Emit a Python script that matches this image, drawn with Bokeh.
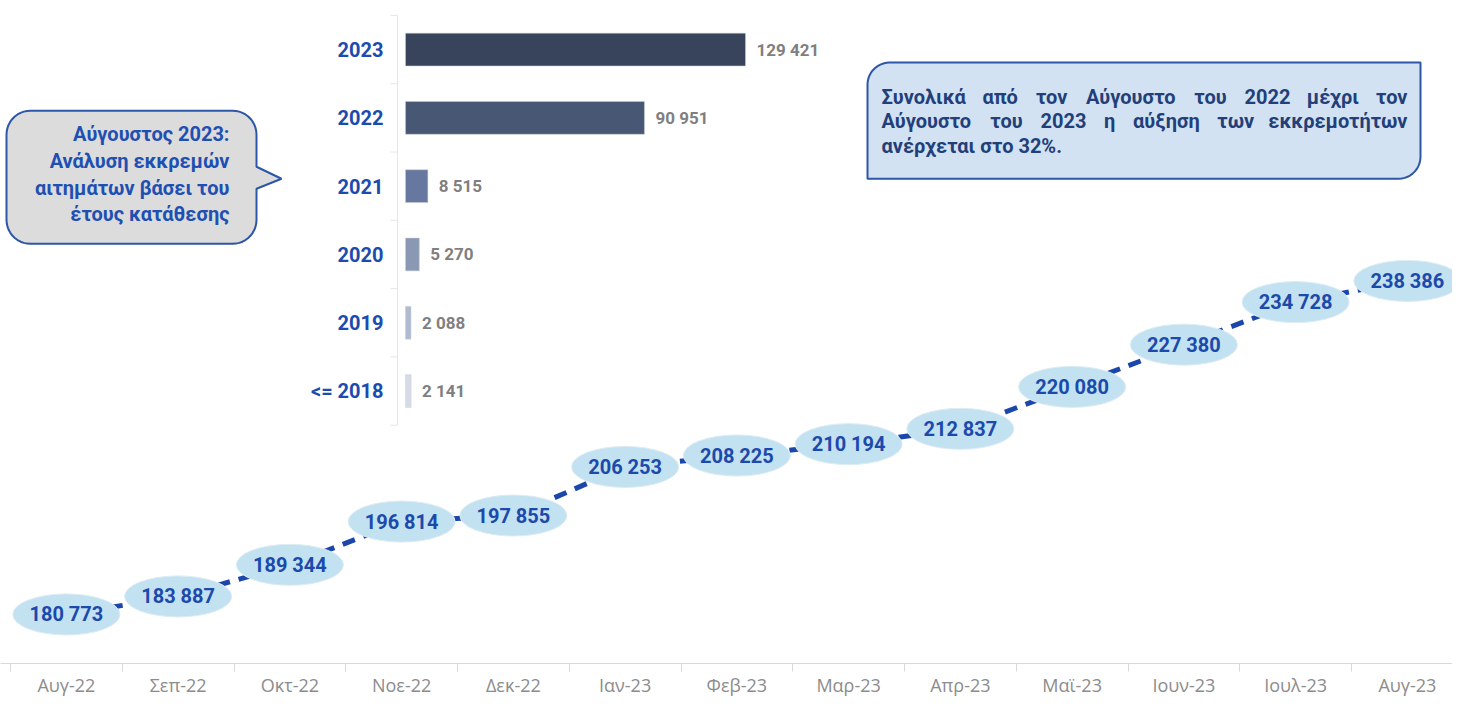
from bokeh.plotting import figure
from bokeh.models import Range1d, FixedTicker, ColumnDataSource
from bokeh.core.properties import value
from bokeh.embed import file_html
from bokeh.resources import INLINE
import numpy as np

# ---------------- data ----------------
months = ["Αυγ-22", "Σεπ-22", "Οκτ-22", "Νοε-22", "Δεκ-22", "Ιαν-23", "Φεβ-23",
          "Μαρ-23", "Απρ-23", "Μαϊ-23", "Ιουν-23", "Ιουλ-23", "Αυγ-23"]
pending = [180773, 183887, 189344, 196814, 197855, 206253, 208225,
           210194, 212837, 220080, 227380, 234728, 238386]

years = ["<= 2018", "2019", "2020", "2021", "2022", "2023"]
year_counts = [2141, 2088, 5270, 8515, 90951, 129421]
bar_colors = ["#D6DCE7", "#B1BBD0", "#8A98B4", "#66789F", "#475774", "#38445C"]

callout_lines = ["Αύγουστος 2023:", "Ανάλυση εκκρεμών", "αιτημάτων βάσει του", "έτους κατάθεσης"]
note_lines = ["Συνολικά από τον Αύγουστο του 2022 μέχρι τον",
              "Αύγουστο του 2023 η αύξηση των εκκρεμοτήτων",
              "ανέρχεται στο 32%."]


def fmt(v):
    return f"{v:,}".replace(",", " ")


FONT = value("Roboto")
BLUE = "#1C49AC"

# ---------------- layout constants (canvas pixels) ----------------
WIDTH, HEIGHT = 1452, 699
FL, FR, FT, FB = 0, 1452, 0, 662    # frame left/right/top/bottom
AXIS_START = 10                     # first month boundary
CAT_W = 111.75                      # pixels per month

x0_val = -0.5 - (AXIS_START - FL) / CAT_W
p = figure(width=WIDTH, height=HEIGHT, output_backend="svg", toolbar_location=None,
           x_range=Range1d(x0_val, x0_val + (FR - FL) / CAT_W),
           y_range=Range1d(172295, 286830),
           y_axis_location=None, min_border_left=FL, min_border_right=0,
           min_border_top=0, min_border_bottom=0)
BAR_ZERO, BAR_PPU = 405, 340 / 129421
BX = Range1d((FL - BAR_ZERO) / BAR_PPU, (FR - BAR_ZERO) / BAR_PPU)
BY = Range1d(-3.988, 5.718)
p.extra_x_ranges = {"bx": BX, "px": Range1d(FL, FR)}
p.extra_y_ranges = {"by": BY, "py": Range1d(FB, FT)}
p.xgrid.visible = False
p.ygrid.visible = False
p.outline_line_color = None
p.background_fill_color = "white"

ax = p.xaxis[0]
ax.ticker = FixedTicker(ticks=list(range(len(months))),
                        minor_ticks=[i - 0.5 for i in range(len(months) + 1)])
ax.major_label_overrides = {i: m for i, m in enumerate(months)}
ax.major_tick_line_color = None
ax.major_tick_in = 0
ax.major_tick_out = 0
ax.minor_tick_line_color = "#D9D9D9"
ax.minor_tick_in = 0
ax.minor_tick_out = 8
ax.axis_line_color = "#D9D9D9"
ax.major_label_text_font = "Open Sans"
ax.major_label_text_font_size = "18px"
ax.major_label_text_color = "#8C8C8C"
ax.major_label_standoff = 1

# ---------------- shapes ----------------
def rounded_poly(x0, y0, x1, y1, r_tl, r_tr, r_br, r_bl, pointer=None):
    xs, ys = [], []

    def arc(cx, cy, r, a0, a1):
        if r == 0:
            xs.append(cx); ys.append(cy)
            return
        for a in np.linspace(np.radians(a0), np.radians(a1), 12):
            xs.append(cx + r * np.cos(a)); ys.append(cy + r * np.sin(a))

    arc(x0 + r_tl, y0 + r_tl, r_tl, 180, 270)
    arc(x1 - r_tr, y0 + r_tr, r_tr, 270, 360)
    if pointer:
        for (px_, py_) in pointer:
            xs.append(px_); ys.append(py_)
    arc(x1 - r_br, y1 - r_br, r_br, 0, 90)
    arc(x0 + r_bl, y1 - r_bl, r_bl, 90, 180)
    return xs, ys


cx, cy = rounded_poly(6, 110, 256, 243, 24, 24, 24, 24,
                      pointer=[(256, 166), (281, 178), (256, 188)])
p.patch(cx, cy, fill_color="#DCDCDC", line_color="#2E56A6", line_width=2,
        x_range_name="px", y_range_name="py")

nx, ny = rounded_poly(867, 62, 1420, 178, 22, 0, 22, 0)
p.patch(nx, ny, fill_color="#D2E2F2", line_color="#2E56A6", line_width=2,
        x_range_name="px", y_range_name="py")

# callout text (right aligned)
p.text(x=[229] * len(callout_lines), y=[133, 160, 187, 213], text=callout_lines,
       text_align="right", text_baseline="middle", text_font=FONT,
       text_font_style="bold", text_font_size="20px", text_color="#1E4FB2",
       x_range_name="px", y_range_name="py")

# note text, justified
W = {"α": .574, "ά": .574, "β": .56, "γ": .51, "δ": .56, "ε": .52, "έ": .52, "η": .56,
     "ή": .56, "θ": .57, "ι": .30, "ί": .30, "κ": .54, "λ": .53, "μ": .58, "ν": .50,
     "ξ": .46, "ο": .57, "ό": .57, "π": .60, "ρ": .57, "σ": .58, "ς": .48, "τ": .52,
     "υ": .55, "ύ": .55, "χ": .50, "ω": .82, "ώ": .82, "Σ": .59, "Α": .67, "%": .73,
     ".": .27}
NFS = 20
NL, NR = 881, 1407
note_y = [96, 120, 145]


def wwidth(w):
    return sum(W.get(c, .562) for c in w) * NFS


left_x, left_y, left_t = [], [], []
mid_x, mid_y, mid_t = [], [], []
right_x, right_y, right_t = [], [], []
for li, line in enumerate(note_lines):
    words = line.split()
    if li == len(note_lines) - 1:
        left_x.append(NL); left_y.append(note_y[li]); left_t.append(line)
        continue
    widths = [wwidth(w) for w in words]
    gap = (NR - NL - sum(widths)) / (len(words) - 1)
    x = NL
    for k, (w, ww) in enumerate(zip(words, widths)):
        if k == 0:
            left_x.append(NL); left_y.append(note_y[li]); left_t.append(w)
        elif k == len(words) - 1:
            right_x.append(NR); right_y.append(note_y[li]); right_t.append(w)
        else:
            mid_x.append(x + ww / 2); mid_y.append(note_y[li]); mid_t.append(w)
        x += ww + gap

for xs_, ys_, ts_, al in [(left_x, left_y, left_t, "left"), (mid_x, mid_y, mid_t, "center"),
                          (right_x, right_y, right_t, "right")]:
    p.text(x=xs_, y=ys_, text=ts_, text_align=al, text_baseline="middle",
           text_font=FONT, text_font_style="bold", text_font_size=f"{NFS}px",
           text_color="#223F7A", x_range_name="px", y_range_name="py")

# ---------------- inset bar chart ----------------
bar_idx = list(range(len(years)))
axis_x = -8 / BAR_PPU
p.segment(x0=[axis_x], y0=[-0.5], x1=[axis_x], y1=[len(years) - 0.5],
          line_color="#E6E6E6", line_width=1, x_range_name="bx", y_range_name="by")
bnd = [i - 0.5 for i in range(len(years) + 1)]
p.segment(x0=[axis_x - 7 / BAR_PPU] * len(bnd), y0=bnd, x1=[axis_x] * len(bnd), y1=bnd,
          line_color="#E6E6E6", line_width=1, x_range_name="bx", y_range_name="by")

bsrc = ColumnDataSource(dict(y=bar_idx, v=year_counts, c=bar_colors, yr=years,
                             lab=[fmt(v) for v in year_counts]))
p.hbar(y="y", left=0, right="v", height=0.48, fill_color="c", line_color="#C8CED9",
       line_width=0.5, source=bsrc, x_range_name="bx", y_range_name="by")
p.text(x=0, y="y", text="yr", x_offset=-22, text_align="right", text_baseline="middle",
       text_font=FONT, text_font_style="bold", text_font_size="20px", text_color="#1C4BB0",
       source=bsrc, x_range_name="bx", y_range_name="by")
p.text(x="v", y="y", text="lab", x_offset=11, text_align="left", text_baseline="middle",
       text_font=FONT, text_font_style="bold", text_font_size="17px", text_color="#7F7F7F",
       source=bsrc, x_range_name="bx", y_range_name="by")

# ---------------- main line ----------------
idx = list(range(len(months)))
lsrc = ColumnDataSource(dict(x=idx, y=pending, lab=[fmt(v) for v in pending]))
p.line(x="x", y="y", source=lsrc, line_color="#1C47AA", line_width=5, line_dash="13 9")
p.ellipse(x="x", y="y", width=107, height=41, width_units="screen", height_units="screen",
          fill_color="#C2E1F1", line_color="#DDEBF4", line_width=1, source=lsrc)
p.text(x="x", y="y", text="lab", text_align="center", text_baseline="middle",
       text_font=FONT, text_font_style="bold", text_font_size="20px", text_color=BLUE,
       source=lsrc)

open("out.html", "w").write(file_html(p, INLINE))
